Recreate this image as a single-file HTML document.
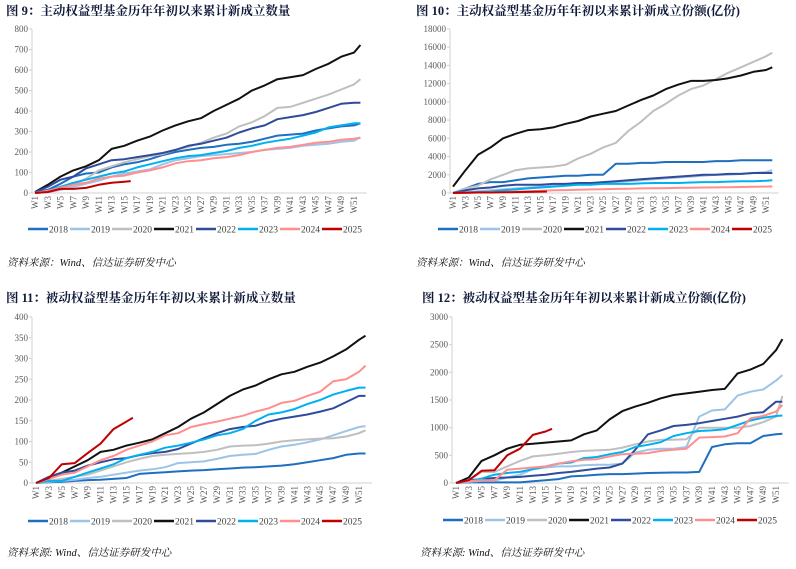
<!DOCTYPE html>
<html><head><meta charset="utf-8"><style>
html,body{margin:0;padding:0;background:#fff;}
svg{display:block;}
.tt{font-family:"Liberation Serif","Noto Serif CJK SC","Noto Sans CJK SC",serif;font-weight:bold;font-size:12.5px;fill:#111a3a;}
.ax{font-family:"Liberation Serif",serif;font-size:9px;fill:#595959;}
.lg{font-family:"Liberation Serif",serif;font-size:9.5px;fill:#404040;}
.src{font-family:"Liberation Serif","Noto Serif CJK SC","Noto Sans CJK SC",serif;font-style:italic;font-size:10.5px;fill:#111;}
</style></head><body>
<svg id="root" width="796" height="569" viewBox="0 0 796 569" xmlns="http://www.w3.org/2000/svg"></svg>
<script>
const years = ["2018","2019","2020","2021","2022","2023","2024","2025"];
const weeks = [1,3,5,7,9,11,13,15,17,19,21,23,25,27,29,31,33,35,37,39,41,43,45,47,49,51,52];
const weeks2025 = [1,3,5,7,9,11,13,15,16];
const weekLabels = ["W1","W3","W5","W7","W9","W11","W13","W15","W17","W19","W21","W23","W25","W27","W29","W31","W33","W35","W37","W39","W41","W43","W45","W47","W49","W51"];

// Chart 1: active equity fund count
const c1_2018 = [5,15,45,80,95,100,125,140,150,165,185,200,210,220,225,235,240,250,265,280,285,290,305,315,325,330,340];
const c1_2019 = [0,5,15,30,45,60,80,95,105,115,140,160,170,180,185,190,195,200,210,215,220,230,235,240,250,255,272];
const c1_2020 = [0,5,20,40,70,110,130,150,165,180,190,210,225,245,270,290,325,345,375,415,420,440,460,480,505,530,555];
const c1_2021 = [5,40,80,110,130,160,215,230,255,275,305,330,350,365,400,430,460,500,525,555,565,575,605,630,665,685,722];
const c1_2022 = [5,30,65,80,120,140,160,165,175,185,195,210,230,240,255,270,295,315,330,360,370,380,395,415,435,440,440];
const c1_2023 = [0,10,30,50,65,80,95,105,125,140,155,170,180,185,195,205,220,230,245,255,265,280,295,320,330,340,340];
const c1_2024 = [0,10,25,40,50,70,80,85,100,110,125,145,155,160,170,175,185,200,210,220,225,235,245,250,260,265,270];
const c1_2025 = [0,5,20,20,25,40,50,55,58];
const c1_ticks = [0,100,200,300,400,500,600,700,800];

// Chart 2: active equity fund shares
const c2_2018 = [0,500,1000,1200,1200,1400,1600,1700,1800,1900,1900,2000,2000,3200,3200,3300,3300,3400,3400,3400,3400,3500,3500,3600,3600,3600,3600];
const c2_2019 = [0,100,200,300,400,500,600,700,800,900,1000,1100,1100,1200,1300,1400,1500,1600,1700,1800,1900,2000,2000,2100,2200,2300,2500];
const c2_2020 = [0,500,800,1500,2000,2500,2700,2800,2900,3100,3800,4300,5000,5500,6800,7800,9000,9800,10700,11400,11800,12500,13200,13800,14400,15000,15400];
const c2_2021 = [700,2500,4200,5000,6000,6500,6900,7000,7200,7600,7900,8400,8700,9000,9600,10200,10700,11400,11900,12300,12300,12400,12600,12900,13300,13500,13800];
const c2_2022 = [0,300,500,600,800,900,900,900,1000,1000,1100,1100,1200,1300,1400,1500,1600,1700,1800,1900,2000,2000,2100,2100,2200,2200,2200];
const c2_2023 = [0,50,100,150,300,400,500,600,700,800,900,900,1000,1000,1000,1050,1100,1100,1100,1150,1200,1200,1250,1300,1300,1350,1400];
const c2_2024 = [0,20,50,80,100,150,200,250,300,320,350,400,420,450,470,500,520,540,560,580,600,620,640,660,680,700,720];
const c2_2025 = [0,20,50,60,80,100,120,150,160];
const c2_ticks = [0,2000,4000,6000,8000,10000,12000,14000,16000,18000];

// Chart 3: passive equity fund count
const c3_2018 = [0,2,3,5,7,8,10,12,22,24,26,28,30,31,33,35,37,38,40,42,45,50,55,60,68,71,71];
const c3_2019 = [0,3,5,8,12,15,20,25,30,33,38,48,50,52,58,65,68,70,80,88,92,98,105,115,125,135,137];
const c3_2020 = [0,5,10,15,20,30,40,50,58,65,68,70,72,75,80,88,90,91,95,100,103,105,107,108,112,120,127];
const c3_2021 = [0,10,25,40,55,75,80,90,97,105,120,135,155,170,190,210,225,235,250,262,268,280,290,305,322,345,355];
const c3_2022 = [0,15,25,30,42,50,57,60,67,72,75,82,95,108,120,130,135,138,148,155,160,165,172,180,195,210,210];
const c3_2023 = [0,5,5,15,25,35,45,60,68,75,85,90,97,105,115,120,130,150,165,170,178,190,200,213,222,230,230];
const c3_2024 = [0,10,20,25,40,55,65,80,90,100,115,120,135,142,148,155,162,172,180,193,198,210,220,245,250,268,283];
const c3_2025 = [0,12,45,48,72,95,130,148,157];
const c3_ticks = [0,50,100,150,200,250,300,350,400];

// Chart 4: passive equity fund shares
const c4_2018 = [0,10,10,10,10,10,30,50,70,120,130,150,160,160,170,180,185,190,190,200,650,700,720,720,850,880,890];
const c4_2019 = [0,20,40,40,100,150,250,280,300,300,320,330,330,350,550,600,620,620,650,1200,1310,1330,1580,1650,1690,1850,1950];
const c4_2020 = [0,50,200,200,300,400,480,500,530,560,580,590,600,640,700,750,780,780,790,1000,1000,1000,1000,1030,1100,1200,1570];
const c4_2021 = [0,100,400,500,620,690,710,730,750,770,880,950,1150,1300,1380,1450,1530,1590,1620,1650,1680,1700,1980,2050,2150,2400,2600];
const c4_2022 = [0,50,70,90,100,110,130,150,180,200,230,260,280,350,600,880,950,1030,1050,1080,1120,1160,1200,1260,1280,1470,1470];
const c4_2023 = [0,30,80,150,180,200,250,300,350,370,450,470,520,560,650,690,740,850,900,940,950,970,1050,1130,1180,1210,1220];
const c4_2024 = [0,30,50,50,240,260,280,300,350,390,420,430,480,520,530,540,580,600,620,820,830,840,900,1170,1210,1290,1410];
const c4_2025 = [0,50,220,230,500,620,870,930,980];
const c4_ticks = [0,500,1000,1500,2000,2500,3000];

const colors = {"2018":"#1f6fc1","2019":"#9dc3e6","2020":"#bfbfbf","2021":"#111111","2022":"#2f4b9a","2023":"#00b0f0","2024":"#ff8f8f","2025":"#c00000"};
const NS = "http://www.w3.org/2000/svg";
const SERIF = '"Liberation Serif", serif';
const root = document.getElementById('root');
function mk(tag, attrs, parent){
  const e = document.createElementNS(NS, tag);
  for (const k in attrs) e.setAttribute(k, attrs[k]);
  (parent||root).appendChild(e);
  return e;
}

function chart(cfg){
  const g = mk('g', {});
  
  
  const t = mk('text', {x: cfg.titleX, y: cfg.titleY, class: 'tt'}, g);
  t.textContent = cfg.title;
  
  
  const maxV = cfg.ticks[cfg.ticks.length-1];
  const xs = w => cfg.x1 + (w-1)*(cfg.x51-cfg.x1)/50;
  const ys = v => cfg.y0 - v/maxV*(cfg.y0-cfg.yTop);
  const ya = mk('line', {x1: cfg.axX, y1: cfg.yTop, x2: cfg.axX, y2: cfg.y0, stroke: '#d0d0d0', 'stroke-width': 1}, g);
  
  
  const xa = mk('line', {x1: cfg.axX, y1: cfg.y0, x2: xs(53), y2: cfg.y0, stroke: '#d0d0d0', 'stroke-width': 1}, g);
  
  
  cfg.ticks.forEach(v => {
    const y = ys(v);
    mk('line', {x1: cfg.axX-3, y1: y, x2: cfg.axX, y2: y, stroke: '#d0d0d0'}, g);
    const tx = mk('text', {x: cfg.axX-4, y: y+3, 'font-family': SERIF, 'font-size': 9, fill: '#595959', 'text-anchor': 'end'}, g);
    tx.textContent = v;
    
    
  });
  weekLabels.forEach(l => {
    const w = parseInt(l.slice(1));
    const x = xs(w);
    const tx = mk('text', {x: 0, y: 0, 'font-family': SERIF, 'font-size': 9, fill: '#595959', 'text-anchor': 'end', transform: `translate(${x+3},${cfg.y0+3}) rotate(-90)`}, g);
    tx.textContent = l;
    
    
  });
  years.forEach(yr => {
    const vals = cfg.series[yr];
    const wk = yr === "2025" ? weeks2025 : weeks;
    const pts = vals.map((v,i) => xs(wk[i]).toFixed(1)+','+ys(v).toFixed(1)).join(' ');
    const pl = mk('polyline', {points: pts, fill: 'none', stroke: colors[yr], 'stroke-width': 2, 'stroke-linejoin': 'round'}, g);
    
    
  });
  years.forEach((yr,i) => {
    const lx = cfg.legX + i*cfg.legStep;
    const lg = mk('g', {}, g);
    
    
    mk('line', {x1: lx, y1: cfg.legY, x2: lx+20, y2: cfg.legY, stroke: colors[yr], 'stroke-width': 2.5}, lg);
    const tx = mk('text', {x: lx+21, y: cfg.legY+3.5, 'font-family': SERIF, 'font-size': 9.5, fill: '#404040'}, lg);
    tx.textContent = yr;
  });
  const s = mk('text', {x: cfg.srcX, y: cfg.srcY, class: 'src'}, g);
  s.textContent = cfg.src;
  
  
}

function S(a,b,c,d,e,f,g2,h){return {"2018":a,"2019":b,"2020":c,"2021":d,"2022":e,"2023":f,"2024":g2,"2025":h};}

chart({name:'chart-active-count', title:'图 9：主动权益型基金历年年初以来累计新成立数量', titleX:6, titleY:15,
  axX:32, x1:35, x51:354, y0:193, yTop:29, ticks:c1_ticks,
  series:S(c1_2018,c1_2019,c1_2020,c1_2021,c1_2022,c1_2023,c1_2024,c1_2025),
  legX:28, legY:229, legStep:42, src:'资料来源：Wind、信达证券研发中心', srcX:7, srcY:266});
chart({name:'chart-active-shares', title:'图 10：主动权益型基金历年年初以来累计新成立份额(亿份)', titleX:416, titleY:15,
  axX:450, x1:453, x51:766, y0:193, yTop:29, ticks:c2_ticks,
  series:S(c2_2018,c2_2019,c2_2020,c2_2021,c2_2022,c2_2023,c2_2024,c2_2025),
  legX:438, legY:229, legStep:42, src:'资料来源：Wind、信达证券研发中心', srcX:416, srcY:266});
chart({name:'chart-passive-count', title:'图 11：被动权益型基金历年年初以来累计新成立数量', titleX:6, titleY:302,
  axX:32, x1:36, x51:359, y0:483, yTop:317, ticks:c3_ticks,
  series:S(c3_2018,c3_2019,c3_2020,c3_2021,c3_2022,c3_2023,c3_2024,c3_2025),
  legX:28, legY:521, legStep:42, src:'资料来源: Wind、信达证券研发中心', srcX:7, srcY:556});
chart({name:'chart-passive-shares', title:'图 12：被动权益型基金历年年初以来累计新成立份额(亿份)', titleX:422, titleY:302,
  axX:452, x1:456, x51:776, y0:483, yTop:317, ticks:c4_ticks,
  series:S(c4_2018,c4_2019,c4_2020,c4_2021,c4_2022,c4_2023,c4_2024,c4_2025),
  legX:443, legY:520, legStep:42, src:'资料来源: Wind、信达证券研发中心', srcX:420, srcY:556});
</script>
</body></html>
